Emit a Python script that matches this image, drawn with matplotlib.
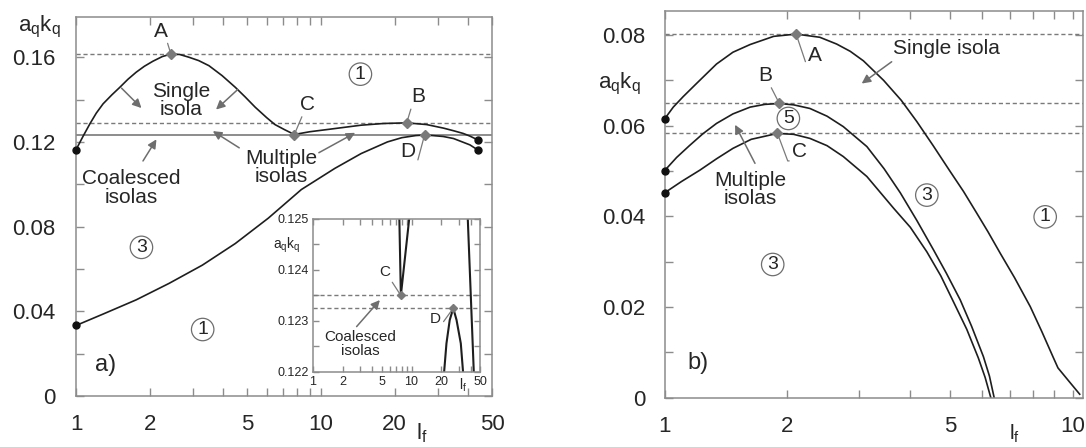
import matplotlib
matplotlib.use('Agg')
import matplotlib.pyplot as plt

plt.rcParams['font.family'] = ['Liberation Sans', 'DejaVu Sans']
plt.rcParams['mathtext.default'] = 'regular'

# ---- panel a) : curves ----
a_upper_lf = [1.0, 1.07, 1.14, 1.21, 1.29, 1.4, 1.51, 1.63, 1.76, 1.9, 2.06, 2.25, 2.44, 2.65,
              2.89, 3.17, 3.49, 3.95, 4.47, 4.9, 5.39, 6.0, 6.49, 7.1, 7.79, 9.0, 10.7, 14.6,
              18.0, 22.4, 27.0, 31.7, 35.0, 38.1, 40.5, 44.0]
a_upper_ak = [0.1163, 0.1228, 0.1286, 0.1336, 0.1380, 0.1422, 0.1458, 0.1496, 0.1529, 0.1557,
              0.1581, 0.1603, 0.1615, 0.1613, 0.1600, 0.1584, 0.1560, 0.1513, 0.1458, 0.1413,
              0.1364, 0.1315, 0.1282, 0.1258, 0.1235, 0.1248, 0.1259, 0.1279, 0.1287, 0.1290,
              0.1282, 0.1265, 0.1252, 0.1240, 0.1228, 0.1208]
a_lower_lf = [1.0, 1.29, 1.76, 2.40, 3.28, 4.47, 6.10, 8.32, 11.4, 14.6, 18.7, 21.4, 24.4, 26.5,
              28.6, 31.6, 34.8, 40.6, 44.0]
a_lower_ak = [0.0333, 0.0387, 0.0454, 0.0532, 0.0618, 0.0720, 0.0840, 0.0975, 0.1075, 0.1145,
              0.1200, 0.1220, 0.1230, 0.12325, 0.1230, 0.12256, 0.1216, 0.1186, 0.1160]
a_points = {'A': (2.44, 0.1615), 'B': (22.4, 0.1290), 'C': (7.79, 0.1235), 'D': (26.5, 0.12325)}

# inset of panel a)
in_c_lf = [7.52, 7.79, 9.46]
in_c_ak = [0.1250, 0.1235, 0.1250]
in_d_lf = [21.4, 22.6, 24.4, 26.5, 28.6, 31.6, 33.3]
in_d_ak = [0.1220, 0.12256, 0.12302, 0.12325, 0.12302, 0.12256, 0.1220]
in_b_lf = [37.2, 42.8]
in_b_ak = [0.1250, 0.1220]

# ---- panel b) ----
b_A_lf = [1.0, 1.05, 1.11, 1.2, 1.34, 1.47, 1.62, 1.85, 2.10, 2.4, 2.64, 2.85, 3.07, 3.44, 3.8,
          4.15, 4.55, 5.0, 5.4, 5.82, 6.2, 6.64, 7.2, 7.87, 8.4, 8.97, 9.2, 9.8, 10.4]
b_A_ak = [0.0615, 0.0641, 0.0664, 0.0694, 0.0736, 0.0762, 0.0779, 0.0797, 0.0802, 0.0795,
          0.0780, 0.0764, 0.0743, 0.0700, 0.0656, 0.0609, 0.0556, 0.0500, 0.0455, 0.0407,
          0.0366, 0.0319, 0.0265, 0.0201, 0.0146, 0.0088, 0.0066, 0.0036, 0.0008]
b_B_lf = [1.0, 1.07, 1.15, 1.24, 1.34, 1.47, 1.62, 1.76, 1.91, 2.07, 2.27, 2.5, 2.74, 3.13, 3.45,
          3.78, 4.15, 4.56, 4.9, 5.30, 5.65, 6.04, 6.25, 6.42]
b_B_ak = [0.0501, 0.0530, 0.0556, 0.0582, 0.0605, 0.0626, 0.0641, 0.0647, 0.0649, 0.0646,
          0.0638, 0.0621, 0.0598, 0.0554, 0.0505, 0.0452, 0.0391, 0.0326, 0.0275, 0.0216,
          0.0158, 0.0091, 0.0048, 0.0]
b_C_lf = [1.0, 1.1, 1.22, 1.34, 1.47, 1.63, 1.89, 2.07, 2.27, 2.5, 2.74, 3.13, 3.64, 4.0, 4.39,
          4.75, 5.10, 5.5, 5.87, 6.1, 6.30]
b_C_ak = [0.0452, 0.0477, 0.0502, 0.0527, 0.0550, 0.0570, 0.0583, 0.0581, 0.0572, 0.0556,
          0.0532, 0.0488, 0.0418, 0.0376, 0.0322, 0.0269, 0.0212, 0.0151, 0.0088, 0.0045, 0.0]
b_points = {'A': (2.10, 0.0802), 'B': (1.91, 0.0649), 'C': (1.89, 0.0583)}

CURVE = '#1e1e1e'
GREY = '#7a7a7a'
TXT = '#262626'


def style(ax, fs, padx, pady, length):
    for s in ax.spines.values():
        s.set_color('#8c8c8c')
        s.set_linewidth(1.1)
    ax.tick_params(which='both', direction='in', top=True, right=True, color='#8c8c8c',
                   length=length, width=1.0, labelsize=fs, labelcolor=TXT)
    ax.tick_params(axis='x', which='both', pad=padx)
    ax.tick_params(axis='y', which='both', pad=pady)


def leader(ax, label, xy, off, relx, angle, fs):
    ax.annotate(label, xy=xy, xytext=off, textcoords='offset pixels', ha='center', va='center',
                fontsize=fs, color=TXT, zorder=6,
                arrowprops=dict(arrowstyle='-', color=GREY, lw=0.9, shrinkA=0, shrinkB=0,
                                relpos=(relx, 0),
                                connectionstyle='angle,angleA=0,angleB=%g,rad=0' % angle))


def arrow(ax, tail, head):
    ax.annotate('', xy=head, xytext=tail,
                arrowprops=dict(arrowstyle='-|>', color='#6e6e6e', lw=1.1, mutation_scale=13,
                                shrinkA=0, shrinkB=0))


def circled(ax, x, y, n, fs=14):
    ax.text(x, y, n, ha='center', va='center', fontsize=fs, color=TXT,
            bbox=dict(boxstyle='circle,pad=0.14', fc='white', ec='#6e6e6e', lw=0.9))


fig = plt.figure(figsize=(10.86, 4.47), dpi=100)

# ================= panel a =================
ax = fig.add_axes([0.0700, 0.1141, 0.3831, 0.8479])
ax.set_xscale('log')
ax.set_xlim(1, 50)
ax.set_ylim(0, 0.179)
ax.xaxis.set_major_locator(plt.FixedLocator([1, 2, 5, 10, 20, 50]))
ax.xaxis.set_major_formatter(plt.FixedFormatter(['1', '2', '5', '10', '20', '50']))
ax.xaxis.set_minor_locator(plt.FixedLocator([3, 4, 6, 7, 8, 9, 30, 40]))
ax.xaxis.set_minor_formatter(plt.NullFormatter())
ax.set_yticks([0, 0.04, 0.08, 0.12, 0.16])
ax.set_yticklabels(['0', '0.04', '0.08', '0.12', '0.16'])
ax.set_yticks([0.02, 0.06, 0.10, 0.14], minor=True)
style(ax, 16, 13, 15, 6)

ax.axhline(a_points['A'][1], color=GREY, lw=1.0, ls=(0, (3, 2)))
ax.axhline(a_points['B'][1], color=GREY, lw=1.0, ls=(0, (3, 2)))
ax.axhline(a_points['C'][1], color='#8c8c8c', lw=1.4)
ax.plot(a_upper_lf, a_upper_ak, color=CURVE, lw=1.2)
ax.plot(a_lower_lf, a_lower_ak, color=CURVE, lw=1.2)
ax.plot([a_upper_lf[0], a_lower_lf[0], a_upper_lf[-1], a_lower_lf[-1]],
        [a_upper_ak[0], a_lower_ak[0], a_upper_ak[-1], a_lower_ak[-1]],
        'o', color='#111111', ms=5, clip_on=False, zorder=5)
for k, (x, y) in a_points.items():
    ax.plot(x, y, 'D', color=GREY, ms=5.5, zorder=5)

leader(ax, 'A', a_points['A'], (-10, 23), 0, 107, 15)
leader(ax, 'C', a_points['C'], (13, 30), 1, 67, 15)
leader(ax, 'B', a_points['B'], (12, 26), 1, 73, 15)
leader(ax, 'D', a_points['D'], (-17, -16), 0, 75, 15)

ax.text(2.69, 0.1396, 'Single\nisola', ha='center', va='center', fontsize=15, color=TXT,
        linespacing=0.95)
arrow(ax, (1.534, 0.1454), (1.85, 0.136))
arrow(ax, (4.57, 0.1447), (3.73, 0.1353))
ax.text(6.86, 0.1078, 'Multiple\nisolas', ha='center', va='center', fontsize=15, color=TXT,
        linespacing=0.95)
arrow(ax, (4.64, 0.1172), (3.62, 0.1251))
arrow(ax, (9.81, 0.1149), (13.8, 0.1243))
ax.text(1.684, 0.0982, 'Coalesced\nisolas', ha='center', va='center', fontsize=15, color=TXT,
        linespacing=0.95)
arrow(ax, (1.877, 0.111), (2.13, 0.1212))
circled(ax, 14.5, 0.152, '1')
circled(ax, 1.85, 0.0702, '3')
circled(ax, 3.29, 0.0314, '1')
ax.text(1.32, 0.0146, 'a)', ha='center', va='center', fontsize=17, color=TXT)
ax.text(-0.087, 0.974, r'$a_qk_q$', transform=ax.transAxes, ha='center', va='center',
        fontsize=16, color=TXT)
ax.text(0.831, -0.098, r'$l_f$', transform=ax.transAxes, ha='center', va='center',
        fontsize=16, color=TXT)

# ---- inset ----
ins = fig.add_axes([0.2882, 0.1678, 0.1542, 0.3423])
ins.set_facecolor('white')
ins.set_xscale('log')
ins.set_xlim(1, 50)
ins.set_ylim(0.122, 0.125)
ins.xaxis.set_major_locator(plt.FixedLocator([1, 2, 5, 10, 20, 50]))
ins.xaxis.set_major_formatter(plt.FixedFormatter(['1', '2', '5', '10', '20', '50']))
ins.xaxis.set_minor_locator(plt.FixedLocator([3, 4, 6, 7, 8, 9, 30, 40]))
ins.xaxis.set_minor_formatter(plt.NullFormatter())
ins.set_yticks([0.122, 0.123, 0.124, 0.125])
ins.set_yticklabels(['0.122', '0.123', '0.124', '0.125'])
ins.set_yticks([0.1225, 0.1235, 0.1245], minor=True)
style(ins, 9, 3, 3, 4)
ins.axhline(a_points['C'][1], color=GREY, lw=1.0, ls=(0, (3, 2)))
ins.axhline(a_points['D'][1], color=GREY, lw=1.0, ls=(0, (3, 2)))
ins.plot(in_c_lf, in_c_ak, color=CURVE, lw=1.5)
ins.plot(in_d_lf, in_d_ak, color=CURVE, lw=1.5)
ins.plot(in_b_lf, in_b_ak, color=CURVE, lw=1.5)
ins.plot(*a_points['C'], 'D', color=GREY, ms=4.5, zorder=5)
ins.plot(*a_points['D'], 'D', color=GREY, ms=4.5, zorder=5)
leader(ins, 'C', a_points['C'], (-16, 23), 0, 123, 11)
leader(ins, 'D', a_points['D'], (-18, -11), 0, 54, 11)
ins.text(2.99, 0.12255, 'Coalesced\nisolas', ha='center', va='center', fontsize=11, color=TXT,
         linespacing=0.95)
arrow(ins, (2.77, 0.12289), (4.77, 0.12341))
ins.text(-0.157, 0.83, r'$a_qk_q$', transform=ins.transAxes, ha='center', va='center',
         fontsize=10, color=TXT)
ins.text(0.897, -0.085, r'$l_f$', transform=ins.transAxes, ha='center', va='center',
         fontsize=10, color=TXT)

# ================= panel b =================
bx = fig.add_axes([0.612, 0.110, 0.3853, 0.8665])
bx.set_xscale('log')
bx.set_xlim(1, 10.6)
bx.set_ylim(0, 0.0854)
bx.xaxis.set_major_locator(plt.FixedLocator([1, 2, 5, 10]))
bx.xaxis.set_major_formatter(plt.FixedFormatter(['1', '2', '5', '10']))
bx.xaxis.set_minor_locator(plt.FixedLocator([3, 4, 6, 7, 8, 9]))
bx.xaxis.set_minor_formatter(plt.NullFormatter())
bx.set_yticks([0, 0.02, 0.04, 0.06, 0.08])
bx.set_yticklabels(['0', '0.02', '0.04', '0.06', '0.08'])
bx.set_yticks([0.01, 0.03, 0.05, 0.07], minor=True)
style(bx, 16, 13, 14, 6)

for k in ['A', 'B', 'C']:
    bx.axhline(b_points[k][1], color=GREY, lw=1.0, ls=(0, (3, 2)))
bx.plot(b_A_lf, b_A_ak, color=CURVE, lw=1.2)
bx.plot(b_B_lf, b_B_ak, color=CURVE, lw=1.2)
bx.plot(b_C_lf, b_C_ak, color=CURVE, lw=1.2)
bx.plot([b_A_lf[0], b_B_lf[0], b_C_lf[0]], [b_A_ak[0], b_B_ak[0], b_C_ak[0]],
        'o', color='#111111', ms=5, clip_on=False, zorder=5)
for k, (x, y) in b_points.items():
    bx.plot(x, y, 'D', color=GREY, ms=5.5, zorder=5)
leader(bx, 'A', b_points['A'], (19, -21), 1, 108.6, 15)
leader(bx, 'B', b_points['B'], (-14, 28), 0, 117, 15)
leader(bx, 'C', b_points['C'], (22, -18), 1, 110.5, 15)

bx.text(4.91, 0.0771, 'Single isola', ha='center', va='center', fontsize=15, color=TXT)
arrow(bx, (3.60, 0.0741), (3.04, 0.0693))
bx.text(1.62, 0.046, 'Multiple\nisolas', ha='center', va='center', fontsize=15, color=TXT,
        linespacing=0.95)
arrow(bx, (1.665, 0.0517), (1.488, 0.0602))
circled(bx, 2.01, 0.0616, '5')
circled(bx, 4.39, 0.0447, '3')
circled(bx, 8.56, 0.0399, '1')
circled(bx, 1.84, 0.0294, '3')
bx.text(1.204, 0.0076, 'b)', ha='center', va='center', fontsize=17, color=TXT)
bx.text(-0.109, 0.81, r'$a_qk_q$', transform=bx.transAxes, ha='center', va='center',
        fontsize=16, color=TXT)
bx.text(0.836, -0.094, r'$l_f$', transform=bx.transAxes, ha='center', va='center',
        fontsize=15, color=TXT)

fig.savefig('out.png', dpi=100, facecolor='white')
